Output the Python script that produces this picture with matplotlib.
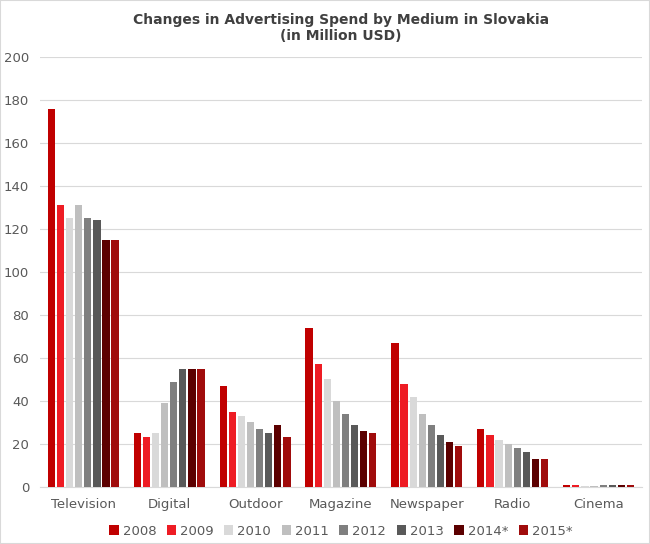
import numpy as np
import matplotlib.pyplot as plt

# data
media = ["Television", "Digital", "Outdoor", "Magazine", "Newspaper", "Radio", "Cinema"]
years = ["2008", "2009", "2010", "2011", "2012", "2013", "2014*", "2015*"]
spend = {
    "2008": [176, 25, 47, 74, 67, 27, 1],
    "2009": [131, 23, 35, 57, 48, 24, 1],
    "2010": [125, 25, 33, 50, 42, 22, 0.5],
    "2011": [131, 39, 30, 40, 34, 20, 0.5],
    "2012": [125, 49, 27, 34, 29, 18, 1],
    "2013": [124, 55, 25, 29, 24, 16, 1],
    "2014*": [115, 55, 29, 26, 21, 13, 1],
    "2015*": [115, 55, 23, 25, 19, 13, 1],
}
colors = ["#C00000", "#EE1C24", "#D9D9D9", "#BFBFBF", "#7F7F7F", "#595959", "#5C0000", "#A00C0C"]

fig = plt.figure(figsize=(6.5, 5.44), dpi=100)
ax = fig.add_axes([0.062, 0.105, 0.925, 0.79])

x = np.arange(len(media))
w = 0.106
for i, y in enumerate(years):
    ax.bar(x + (i - 3.5) * w, spend[y], w * 0.8, color=colors[i], label=y, zorder=3)

ax.set_xlim(-0.5, len(media) - 0.5)
ax.set_ylim(0, 200)
ax.set_yticks(range(0, 201, 20))
ax.set_xticks(x)
ax.set_xticklabels(media)
ax.grid(axis="y", color="#D9D9D9", lw=0.8, zorder=0)
for s in ["top", "right", "left"]:
    ax.spines[s].set_visible(False)
ax.spines["bottom"].set_color("#D9D9D9")
ax.tick_params(length=0, colors="#595959", labelsize=9.5, pad=8)

ax.set_title("Changes in Advertising Spend by Medium in Slovakia\n(in Million USD)",
             fontsize=10, fontweight="bold", color="#404040", pad=12)
ax.legend(ncol=8, loc="upper center", bbox_to_anchor=(0.5, -0.06), frameon=False,
          fontsize=9.5, handlelength=0.7, handleheight=0.7, handletextpad=0.3,
          columnspacing=0.8, labelcolor="#595959")

fig.patches.append(plt.Rectangle((0, 0), 1, 1, transform=fig.transFigure,
                                 fill=False, ec="#D9D9D9", lw=1.5))
fig.savefig("out.png")
